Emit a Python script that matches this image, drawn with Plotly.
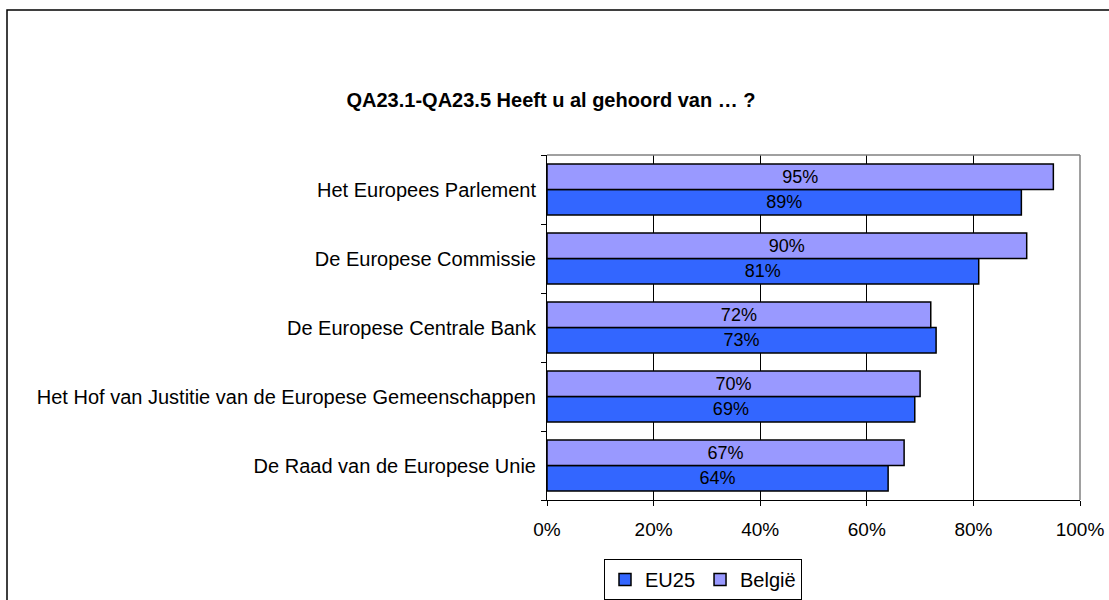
import plotly.graph_objects as go

categories = [
    "Het Europees Parlement",
    "De Europese Commissie",
    "De Europese Centrale Bank",
    "Het Hof van Justitie van de Europese Gemeenschappen",
    "De Raad van de Europese Unie",
]
eu25 = [89, 81, 73, 69, 64]
belgie = [95, 90, 72, 70, 67]
x_ticks = [0, 20, 40, 60, 80, 100]
x_tick_labels = ["0%", "20%", "40%", "60%", "80%", "100%"]
title_text = "QA23.1-QA23.5 Heeft u al gehoord van … ?"

FONT = "Liberation Sans, Arial, sans-serif"

fig = go.Figure()
fig.add_trace(go.Bar(
    y=categories, x=eu25, name="EU25", orientation="h",
    marker=dict(color="#3366FF", line=dict(color="black", width=1.5)),
    text=[f"{v}%" for v in eu25], texttemplate="%{text}",
    textposition="inside", insidetextanchor="middle",
    textfont=dict(family=FONT, size=18, color="black"),
    hoverinfo="skip",
))
fig.add_trace(go.Bar(
    y=categories, x=belgie, name="België", orientation="h",
    marker=dict(color="#9999FF", line=dict(color="black", width=1.5)),
    text=[f"{v}%" for v in belgie], texttemplate="%{text}",
    textposition="inside", insidetextanchor="middle",
    textfont=dict(family=FONT, size=18, color="black"),
    hoverinfo="skip",
))

L, R, T, B = 547, 29, 155, 100
W, H = 1109, 600
pw, ph = W - L - R, H - T - B

def px_x(p):
    return (p - L) / pw

def px_y(p):
    return (H - B - p) / ph

fig.update_layout(
    width=W, height=H,
    margin=dict(l=L, r=R, t=T, b=B, pad=0, autoexpand=False),
    paper_bgcolor="white", plot_bgcolor="white",
    barmode="group", bargap=0.26, bargroupgap=0,
    font=dict(family=FONT, size=18, color="black"),
    uniformtext=dict(minsize=18, mode="show"),
    title=dict(text="<b>" + title_text + "</b>", x=551 / W, xanchor="center",
               y=1 - 100 / H, yanchor="middle",
               font=dict(family=FONT, size=20, color="black")),
    showlegend=True,
    legend=dict(orientation="h", x=px_x(703), xanchor="center",
                y=px_y(579.5), yanchor="middle",
                bordercolor="black", borderwidth=1, bgcolor="white",
                font=dict(family=FONT, size=20, color="black"),
                itemwidth=30, tracegroupgap=0),
    xaxis=dict(range=[0, 100], tickvals=x_ticks, ticktext=x_tick_labels,
               showgrid=True, gridcolor="black", gridwidth=1,
               showline=True, linecolor="black", linewidth=1,
               ticks="outside", ticklen=5, tickcolor="black",
               ticklabelstandoff=7,
               tickfont=dict(family=FONT, size=19), zeroline=False,
               fixedrange=True),
    yaxis=dict(categoryorder="array", categoryarray=categories[::-1],
               showline=True, linecolor="black", linewidth=1,
               ticks="outside", ticklen=5, tickcolor="black",
               tickson="boundaries", showgrid=False, ticklabelstandoff=6,
               tickfont=dict(family=FONT, size=20), fixedrange=True),
    shapes=[
        dict(type="line", xref="paper", yref="paper", x0=0, x1=1, y0=1, y1=1,
             line=dict(color="#808080", width=1.5), layer="above"),
        dict(type="line", xref="paper", yref="paper", x0=1, x1=1, y0=0, y1=1,
             line=dict(color="#808080", width=1.5), layer="above"),
        dict(type="rect", xref="paper", yref="paper",
             x0=px_x(7), x1=px_x(1200), y0=px_y(700), y1=px_y(10),
             line=dict(color="black", width=1.5), layer="below"),
    ],
)

fig.write_html("out.html", config={"displayModeBar": False},
               post_script="document.body.style.margin='0px';")
